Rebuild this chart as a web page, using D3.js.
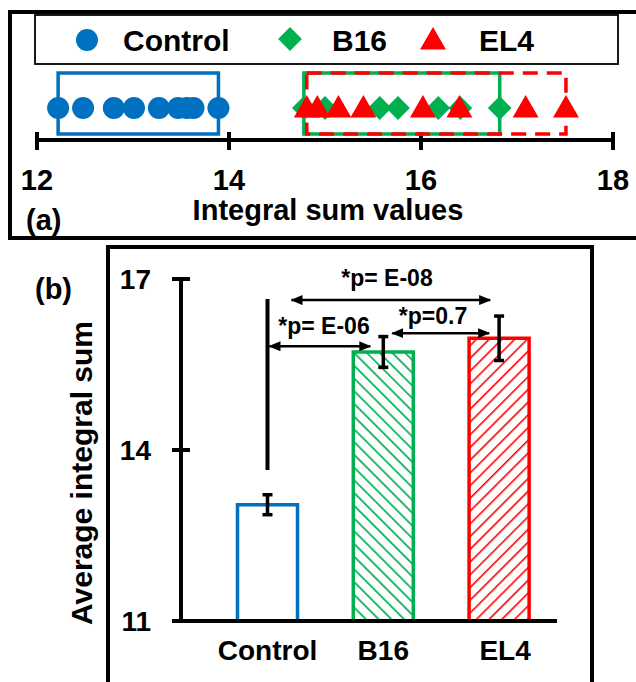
<!DOCTYPE html>
<html><head><meta charset="utf-8">
<script src="https://cdn.jsdelivr.net/npm/d3@7"></script>
<style>
body{margin:0;background:#fff;}
svg{display:block;font-family:"Liberation Sans",Arial,sans-serif;font-weight:bold;}
</style></head>
<body><svg id="c" width="636" height="682"></svg>
<script>
// ---------- data ----------
const groups = ["Control","B16","EL4"];
const controlValues = [12.22,12.48,12.80,13.01,13.27,13.47,13.56,13.63,13.89];
const b16Values = [14.78,15.00,15.57,15.76,16.18,16.41,16.82];
const el4Values = [14.81,14.92,15.14,15.40,16.02,16.40,17.09,17.51];
const topTicks = [12,14,16,18];
const barMeans = [13.04,15.72,15.96];
const barErrors = [0.175,0.27,0.39];
const barTicks = [11,14,17];
const pLabels = ["*p= E-06","*p= E-08","*p=0.7"];

const colors = {Control:"#0070C0",B16:"#00B050",EL4:"#FF0000"};
const svg = d3.select("#c");

// ---------- frames ----------
svg.append("rect").attr("x",10).attr("y",12).attr("width",640).attr("height",226)
  .attr("fill","none").attr("stroke","#000").attr("stroke-width",4);
svg.append("rect").attr("x",108).attr("y",247).attr("width",484).attr("height",460)
  .attr("fill","none").attr("stroke","#000").attr("stroke-width",4);

// ---------- defs (hatch, arrows) ----------
const defs = svg.append("defs");
const hB = defs.append("pattern").attr("id","hatchB16").attr("patternUnits","userSpaceOnUse")
  .attr("width",9).attr("height",9).attr("patternTransform","rotate(-45)");
hB.append("line").attr("x1",0).attr("y1",0).attr("x2",0).attr("y2",9)
  .attr("stroke",colors.B16).attr("stroke-width",3.4);
const hE = defs.append("pattern").attr("id","hatchEL4").attr("patternUnits","userSpaceOnUse")
  .attr("width",9).attr("height",9).attr("patternTransform","rotate(45)");
hE.append("line").attr("x1",0).attr("y1",0).attr("x2",0).attr("y2",9)
  .attr("stroke",colors.EL4).attr("stroke-width",3.2);
defs.append("marker").attr("id","arr").attr("viewBox","0 0 12 10").attr("refX",11).attr("refY",5)
  .attr("markerWidth",12).attr("markerHeight",10).attr("markerUnits","userSpaceOnUse")
  .attr("orient","auto-start-reverse")
  .append("path").attr("d","M0,0L12,5L0,10Z").attr("fill","#000");

// ---------- panel (a) ----------
const xa = d3.scaleLinear().domain([12,18]).range([37,613]);
const axisY = 140, ptY = 108;

// legend
svg.append("rect").attr("x",35).attr("y",15).attr("width",583).attr("height",49)
  .attr("fill","#fff").attr("stroke","#000").attr("stroke-width",1.8);
const legItems = [
  {g:"Control", sym:d3.symbolCircle, size:Math.PI*11*11, mx:87, my:40, tx:123},
  {g:"B16", sym:d3.symbolDiamond2, size:360, mx:290, my:39, tx:332},
  {g:"EL4", sym:d3.symbolTriangle, size:290, mx:433, my:42, tx:479}
];
legItems.forEach(d=>{
  svg.append("path").attr("d",d3.symbol(d.sym,d.size)()).attr("transform",`translate(${d.mx},${d.my})`)
    .attr("fill",colors[d.g]);
  svg.append("text").attr("x",d.tx).attr("y",51).attr("font-size",30).text(d.g);
});

// axis
svg.append("line").attr("x1",xa(12)).attr("x2",xa(18)).attr("y1",axisY).attr("y2",axisY)
  .attr("stroke","#000").attr("stroke-width",4);
topTicks.forEach(t=>{
  svg.append("line").attr("x1",xa(t)).attr("x2",xa(t)).attr("y1",axisY-8).attr("y2",axisY+10)
    .attr("stroke","#000").attr("stroke-width",4);
  svg.append("text").attr("x",xa(t)).attr("y",190).attr("text-anchor","middle").attr("font-size",29).text(t);
});
svg.append("text").attr("x",328).attr("y",220).attr("text-anchor","middle").attr("font-size",29).text("Integral sum values");
svg.append("text").attr("x",26).attr("y",230).attr("font-size",29).text("(a)");

// boxes
const boxTop = 73, boxBot = 134;
function box(vals, color, dash){
  const r = svg.append("rect").attr("x",xa(d3.min(vals))).attr("y",boxTop)
    .attr("width",xa(d3.max(vals))-xa(d3.min(vals))).attr("height",boxBot-boxTop)
    .attr("fill","none").attr("stroke",color).attr("stroke-width",3.5);
  if(dash) r.attr("stroke-dasharray",dash);
}
box(controlValues, colors.Control);
box(b16Values, colors.B16);
box(el4Values, colors.EL4, "15,9");

// points
svg.selectAll(".pc").data(controlValues).join("circle").attr("cx",d=>xa(d)).attr("cy",ptY).attr("r",11)
  .attr("fill",colors.Control);
svg.selectAll(".pb").data(b16Values).join("path").attr("d",d3.symbol(d3.symbolDiamond2,360)())
  .attr("transform",d=>`translate(${xa(d)},${ptY})`).attr("fill",colors.B16);
svg.selectAll(".pe").data(el4Values).join("path").attr("d",d3.symbol(d3.symbolTriangle,290)())
  .attr("transform",d=>`translate(${xa(d)},${ptY+2})`).attr("fill",colors.EL4);

// ---------- panel (b) ----------
const y = d3.scaleLinear().domain([11,17]).range([621,279]);
const x = d3.scaleBand().domain(groups).range([209.6,557]).paddingInner(0.4816).paddingOuter(0.2408);
const cx = g => x(g)+x.bandwidth()/2;

// bars
groups.forEach((g,i)=>{
  const fill = g==="B16" ? "url(#hatchB16)" : g==="EL4" ? "url(#hatchEL4)" : "#fff";
  svg.append("path")
    .attr("d",`M${x(g)},${y(11)}V${y(barMeans[i])}H${x(g)+x.bandwidth()}V${y(11)}`)
    .attr("fill",fill).attr("stroke",colors[g]).attr("stroke-width",3.5);
});
// axes
svg.append("line").attr("x1",181).attr("x2",181).attr("y1",y(17)).attr("y2",y(11))
  .attr("stroke","#000").attr("stroke-width",4);
svg.append("line").attr("x1",172).attr("x2",557).attr("y1",y(11)).attr("y2",y(11))
  .attr("stroke","#000").attr("stroke-width",4);
barTicks.forEach(t=>{
  svg.append("line").attr("x1",172).attr("x2",190).attr("y1",y(t)).attr("y2",y(t))
    .attr("stroke","#000").attr("stroke-width",4);
  svg.append("text").attr("x",151).attr("y",y(t)+10).attr("text-anchor","end").attr("font-size",28).text(t);
});
groups.forEach(g=>{
  svg.append("text").attr("x",cx(g)+(g==="EL4"?6:0)).attr("y",660).attr("text-anchor","middle")
    .attr("font-size",28).text(g);
});
svg.append("text").attr("transform","translate(92,473) rotate(-90)").attr("text-anchor","middle")
  .attr("font-size",30).text("Average integral sum");
svg.append("text").attr("x",35).attr("y",299).attr("font-size",29).text("(b)");

// error bars
groups.forEach((g,i)=>{
  const lo = y(barMeans[i]-barErrors[i]), hi = y(barMeans[i]+barErrors[i]);
  const gg = svg.append("g").attr("stroke","#000").attr("stroke-width",3.5);
  gg.append("line").attr("x1",cx(g)).attr("x2",cx(g)).attr("y1",lo).attr("y2",hi);
  gg.append("line").attr("x1",cx(g)-5).attr("x2",cx(g)+5).attr("y1",lo).attr("y2",lo);
  gg.append("line").attr("x1",cx(g)-5).attr("x2",cx(g)+5).attr("y1",hi).attr("y2",hi);
});

// significance annotations
svg.append("line").attr("x1",cx("Control")).attr("x2",cx("Control")).attr("y1",y(16.65)).attr("y2",y(13.65))
  .attr("stroke","#000").attr("stroke-width",4);
const arrows = [
  {x1:cx("Control")+2, x2:x("B16")+17, v:15.82, label:pLabels[0], tx:324, tv:16.04},
  {x1:cx("Control")+24, x2:cx("EL4")-9, v:16.63, label:pLabels[1], tx:387, tv:16.88},
  {x1:x("B16")+39, x2:cx("EL4")-10, v:16.05, label:pLabels[2], tx:433, tv:16.21}
];
arrows.forEach(a=>{
  svg.append("line").attr("x1",a.x1).attr("x2",a.x2).attr("y1",y(a.v)).attr("y2",y(a.v))
    .attr("stroke","#000").attr("stroke-width",2.5)
    .attr("marker-start","url(#arr)").attr("marker-end","url(#arr)");
});
arrows.forEach(a=>{
  svg.append("text").attr("x",a.tx).attr("y",y(a.tv)).attr("text-anchor","middle").attr("font-size",23).text(a.label);
});
</script></body></html>
